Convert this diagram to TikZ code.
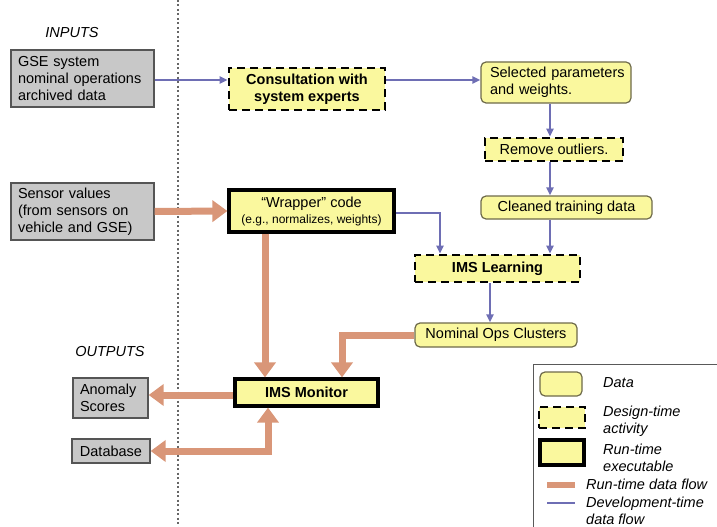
\documentclass[tikz,border=0pt]{standalone}
\usepackage{fontspec}
\setmainfont{Liberation Sans}
\usetikzlibrary{arrows.meta,positioning}
\definecolor{yel}{RGB}{250,248,158}
\definecolor{gry}{RGB}{200,200,200}
\definecolor{gryb}{RGB}{85,85,85}
\definecolor{olive}{RGB}{110,106,74}
\definecolor{org}{RGB}{217,150,120}
\definecolor{blu}{RGB}{110,110,180}
\tikzset{
  grybox/.style={draw=gryb, line width=1.3pt, fill=gry, align=left, inner xsep=7pt, anchor=center},
  databox/.style={draw=olive, line width=1.2pt, fill=yel, rounded corners=5pt, anchor=center},
  designbox/.style={draw=black, line width=2.6pt, dash pattern=on 8pt off 5pt, fill=yel, anchor=center},
  runbox/.style={draw=black, line width=3.2pt, fill=yel, anchor=center},
  dev/.style={draw=blu, line width=2.2pt, -{Triangle[length=8pt,width=7pt]}},
  run/.style={draw=org, line width=7pt, -{Triangle[length=15pt,width=21pt]}},
  runboth/.style={draw=org, line width=7pt, {Triangle[length=15pt,width=21pt]}-{Triangle[length=15pt,width=21pt]}},
  lbl/.style={font=\fontsize{14.5}{17}\selectfont\itshape, inner sep=0pt, align=left}
}
\begin{document}
\begin{tikzpicture}[x=1pt,y=-1pt]
\useasboundingbox (0,0) rectangle (717,527);
% separator
\draw[gray!80!black, line width=1.3pt, dash pattern=on 2pt off 2.5pt] (178,0) -- (178,527);

\node[lbl] (inputs) at (72,33) {INPUTS};
\node[lbl] (outputs) at (110,352) {OUTPUTS};

% input boxes
\node[grybox, font=\fontsize{14.5}{17}\selectfont, minimum width=143pt, minimum height=57pt, text width=129pt] (gse) at (82.5,78.5) {GSE system\\nominal operations\\archived data};
\node[grybox, font=\fontsize{14.5}{17}\selectfont, minimum width=143pt, minimum height=57pt, text width=129pt] (sens) at (82.5,211.5) {Sensor values\\(from sensors on\\vehicle and GSE)};

% output boxes
\node[grybox, font=\fontsize{14.5}{17}\selectfont, minimum width=75pt, minimum height=40pt, text width=61pt] (anom) at (110.5,398) {Anomaly\\Scores};
\node[grybox, font=\fontsize{14.5}{17}\selectfont, minimum width=78pt, minimum height=24pt, align=center, inner xsep=0pt] (db) at (111,451) {Database};

% process boxes
\node[designbox, font=\fontsize{14.5}{17}\selectfont\bfseries, minimum width=156pt, minimum height=42pt, align=center] (cons) at (307,89) {Consultation with\\system experts};
\node[databox, font=\fontsize{14.5}{17}\selectfont, minimum width=150pt, minimum height=41pt, align=left, inner xsep=9pt, text width=132pt] (sel) at (556,82.5) {\hyphenpenalty=10000 Selected~parameters\\and weights.};
\node[designbox, font=\fontsize{14.5}{17}\selectfont, minimum width=138pt, minimum height=23pt, inner sep=0pt] (rem) at (554,149.5) {Remove outliers.};
\node[databox, font=\fontsize{14.5}{17}\selectfont, minimum width=171pt, minimum height=23pt, inner sep=0pt] (clean) at (566.5,207.5) {Cleaned training data};
\node[designbox, font=\fontsize{14.5}{17}\selectfont\bfseries, minimum width=165pt, minimum height=27pt, inner sep=0pt] (learn) at (497.5,268.5) {IMS Learning};
\node[runbox, font=\fontsize{14.5}{16}\selectfont, minimum width=165pt, minimum height=42pt, align=center, inner sep=0pt] (wrap) at (311.5,211) {``Wrapper'' code\\{\fontsize{12}{16}\selectfont(e.g., normalizes, weights)}};
\node[databox, font=\fontsize{14.5}{17}\selectfont, minimum width=162pt, minimum height=24pt, inner sep=0pt] (nom) at (496,335) {Nominal Ops Clusters};
\node[runbox, font=\fontsize{14.5}{17}\selectfont\bfseries, minimum width=143pt, minimum height=27pt, inner sep=0pt] (mon) at (306.5,392.5) {IMS Monitor};

% helper coordinates
\coordinate (c1) at ([yshift=9pt]cons.east);
\coordinate (vx) at (550,0);
\coordinate (lx) at (440,0);
\coordinate (nx) at (490,0);
\coordinate (ox1) at (265,0);
\coordinate (ox2) at (342,0);
\coordinate (ox3) at (268,0);

% development-time flows
\draw[dev] (gse.east |- c1) -- (cons.west |- c1);
\draw[dev] (c1) -- (c1 -| sel.west);
\draw[dev] (sel.south -| vx) -- (rem.north -| vx);
\draw[dev] (rem.south -| vx) -- (clean.north -| vx);
\draw[dev] (clean.south -| vx) -- (learn.north -| vx);
\draw[dev] ([yshift=-2pt]wrap.east) -| (learn.north -| lx);
\draw[dev] (learn.south -| nx) -- (nom.north -| nx);

% run-time flows
\draw[run] (sens.east) -- (wrap.west);
\draw[run] (wrap.south -| ox1) -- (mon.north -| ox1);
\draw[run] (nom.west) -| (mon.north -| ox2);
\draw[run] ([yshift=-2.5pt]mon.west) -- ([yshift=-2.5pt]mon.west -| anom.east);
\draw[runboth] (db.east) -| (mon.south -| ox3);

% legend
\draw[gray!70!black, line width=1pt] (533,364) rectangle (725,535);
\node[databox, minimum width=42pt, minimum height=24pt, inner sep=0pt] (lg1) at (561,384) {};
\node[designbox, minimum width=46pt, minimum height=21pt, inner sep=0pt] (lg2) at (562,417.5) {};
\node[runbox, minimum width=44pt, minimum height=25pt, inner sep=0pt] (lg3) at (562,452.5) {};
\coordinate (lg4a) at (547,485);
\coordinate (lg4b) at (575,485);
\coordinate (lg5a) at (547,503);
\coordinate (lg5b) at (575,503);
\draw[org, line width=6pt] (lg4a) -- (lg4b);
\draw[blu, line width=2pt] (lg5a) -- (lg5b);
\node[lbl, anchor=west] (t1) at (603,383) {Data};
\node[lbl, anchor=west] (t2) at (603,421) {Design-time\\activity};
\node[lbl, anchor=west] (t3) at (603,458) {Run-time\\executable};
\node[lbl, anchor=west] (t4) at (586,484) {Run-time data flow};
\node[lbl, anchor=west] (t5) at (586,511) {Development-time\\data flow};
\end{tikzpicture}
\end{document}
